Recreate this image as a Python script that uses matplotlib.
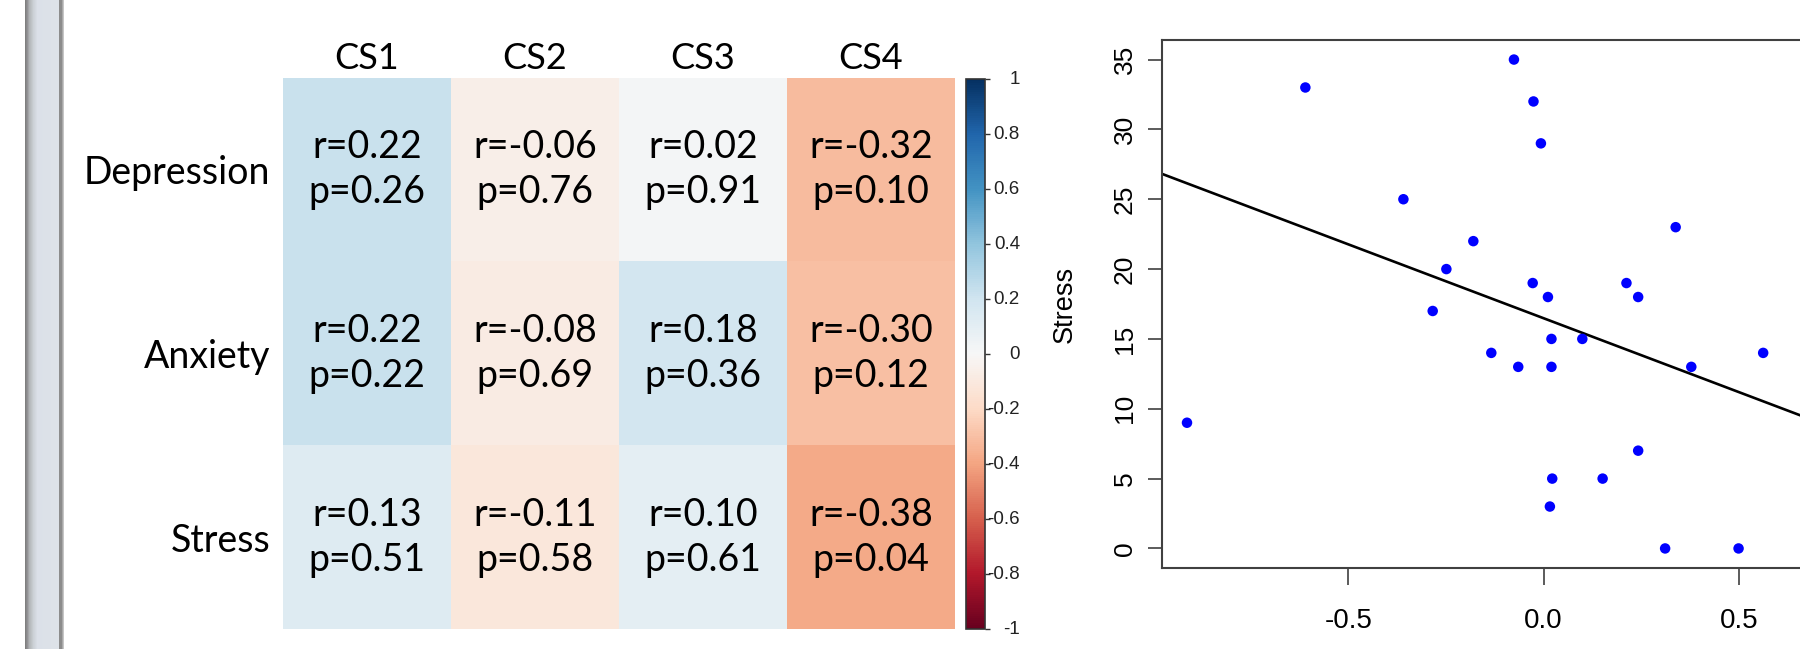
import numpy as np
import matplotlib.pyplot as plt
from matplotlib import font_manager

# correlation of CS components with DASS scores
components = ["CS1", "CS2", "CS3", "CS4"]
scales = ["Depression", "Anxiety", "Stress"]
r_values = [
    [0.22, -0.06, 0.02, -0.32],
    [0.22, -0.08, 0.18, -0.30],
    [0.13, -0.11, 0.10, -0.38],
]
p_values = [
    [0.26, 0.76, 0.91, 0.10],
    [0.22, 0.69, 0.36, 0.12],
    [0.51, 0.58, 0.61, 0.04],
]
cbar_ticks = [1, 0.8, 0.6, 0.4, 0.2, 0, -0.2, -0.4, -0.6, -0.8, -1]
cbar_labels = ["1", "0.8", "0.6", "0.4", "0.2", "0", "-0.2", "-0.4", "-0.6", "-0.8", "-1"]

# scatter: CS4 score against Stress
cs4_score = [-0.610, -0.076, -0.026, -0.007, -0.359, -0.180, -0.249, -0.028, 0.011,
             0.212, 0.242, 0.338, -0.284, -0.913, -0.134, -0.065, 0.020, 0.020,
             0.099, 0.378, 0.562, 0.242, 0.022, 0.151, 0.016, 0.311, 0.499]
stress_score = [33, 35, 32, 29, 25, 22, 20, 19, 18, 19, 18, 23, 17, 9, 14, 13, 15, 13,
                15, 13, 14, 7, 5, 5, 3, 0, 0]
fit_intercept = 16.48
fit_slope = -10.58
x_ticks = [-0.5, 0.0, 0.5]
x_tick_labels = ["-0.5", "0.0", "0.5"]
y_ticks = [0, 5, 10, 15, 20, 25, 30, 35]

W, H = 1800, 649
names = {f.name for f in font_manager.fontManager.ttflist}
narrow = "Liberation Sans Narrow" if "Liberation Sans Narrow" in names else "Liberation Sans"


def box(x0, y0, x1, y1):
    # pixel box (top-left origin) -> figure fraction rect
    return [x0 / W, 1 - y1 / H, (x1 - x0) / W, (y1 - y0) / H]


fig = plt.figure(figsize=(W / 100, H / 100), dpi=100)
fig.patch.set_facecolor("white")

# slide edge decoration on the left
bar = fig.add_axes(box(25, 0, 64, H))
keys_x = [0, 2, 4, 8, 12, 33, 34, 36, 38]
keys_c = np.array([[0.50, 0.50, 0.50], [0.58, 0.58, 0.59], [0.70, 0.71, 0.72],
                   [0.80, 0.82, 0.84], [0.86, 0.88, 0.91], [0.87, 0.89, 0.91],
                   [0.55, 0.55, 0.55], [0.55, 0.55, 0.55], [0.78, 0.78, 0.78]])
cols = np.stack([np.interp(np.arange(39), keys_x, keys_c[:, k]) for k in range(3)], axis=1)
bar.imshow(cols[None, :, :], aspect="auto")
bar.axis("off")

# heatmap
ax = fig.add_axes(box(283, 78, 955, 629))
im = ax.imshow(np.array(r_values), cmap="RdBu", vmin=-1, vmax=1, aspect="auto")
for i in range(len(scales)):
    for j in range(len(components)):
        ax.text(j, i, "r=%.2f\np=%.2f" % (r_values[i][j], p_values[i][j]),
                ha="center", va="center", multialignment="center",
                fontsize=27, family="Lato", linespacing=1.3, color="black")
ax.set_xticks(range(len(components)))
ax.set_xticklabels(components, fontsize=26, family="Lato")
ax.xaxis.tick_top()
ax.set_yticks(range(len(scales)))
ax.set_yticklabels(scales, fontsize=27, family="Lato")
ax.tick_params(length=0)
ax.tick_params(axis="x", pad=2)
ax.tick_params(axis="y", pad=9)
for s in ax.spines.values():
    s.set_visible(False)

# colour bar, labels right-aligned next to the ticks
cax = fig.add_axes(box(966, 79, 985, 629))
cb = fig.colorbar(im, cax=cax, ticks=cbar_ticks)
cb.ax.set_yticklabels([])
cb.ax.tick_params(length=3.6, width=1, color="#333333")
cb.outline.set_edgecolor("#333333")
cb.outline.set_linewidth(1.2)
lab_x = (1020 - 966) / 19
cb_texts = [cax.text(lab_x, t, lab, transform=cax.get_yaxis_transform(), ha="right",
                     va="center", fontsize=16, family=narrow, color="#222222")
            for t, lab in zip(cbar_ticks, cbar_labels)]
# shrink the labels until the widest one fits between the ticks and x=1020
renderer = fig.canvas.get_renderer()
size = 16
while size > 9:
    widest = max(t.get_window_extent(renderer).width for t in cb_texts)
    if widest <= 33:
        break
    size -= 0.5
    for t in cb_texts:
        t.set_fontsize(size)

# scatter with fitted line
ax2 = fig.add_axes(box(1162, 40, 1837, 568))
ax2.scatter(cs4_score, stress_score, s=57, color="#0000ff", edgecolors="none", zorder=3)
ax2.axline((0, fit_intercept), slope=fit_slope, color="black", lw=1.9)
ax2.set_xlim(-0.977, 0.751)
ax2.set_ylim(-1.4, 36.4)
ax2.set_xticks(x_ticks)
ax2.set_xticklabels(x_tick_labels, fontsize=20, family=narrow)
ax2.set_yticks(y_ticks)
ax2.set_yticklabels([str(v) for v in y_ticks], fontsize=19, family="Liberation Sans",
                    rotation=90, va="center")
ax2.tick_params(axis="x", length=12, width=1.2, pad=17, color="#404040")
ax2.tick_params(axis="y", length=10, width=1.2, pad=8, color="#404040")
for s in ax2.spines.values():
    s.set_color("#404040")
    s.set_linewidth(1.5)
ax2.set_ylabel("Stress", fontsize=19.5, family="Liberation Sans", va="center")
ax2.yaxis.set_label_coords((1065 - 1162) / 675, 0.5)

fig.savefig("out.png", dpi=100)
